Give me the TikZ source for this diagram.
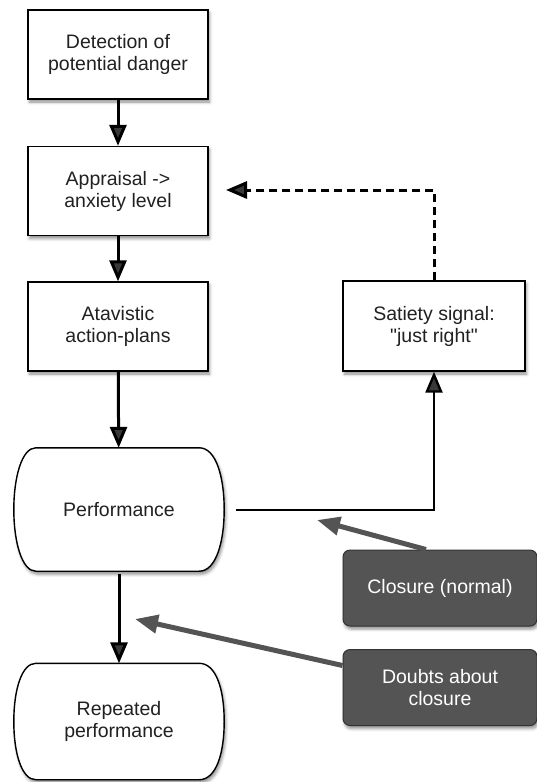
\documentclass[tikz,border=0pt]{standalone}
\usepackage{fontspec}
\setmainfont{Liberation Sans}
\newfontfamily\rawfont{Liberation Sans}
\usetikzlibrary{arrows.meta,shadows.blur}
\definecolor{txt}{gray}{0.13}
\definecolor{dark}{gray}{0.33}
\begin{document}
\begin{tikzpicture}[x=1pt,y=-1pt,
  font=\fontsize{19.5}{22}\selectfont,
  shade/.style={blur shadow={shadow xshift=1.5pt,shadow yshift=-3pt,shadow blur radius=3pt,shadow opacity=45}},
  box/.style={draw=black,line width=1.4pt,fill=white,minimum width=180pt,minimum height=89pt,align=center,text=txt,inner sep=0pt,shade},
  dbox/.style={draw=black!80,line width=1pt,fill=dark,rounded corners=7pt,minimum width=194pt,minimum height=76pt,align=center,text=white,inner sep=0pt,shade},
  blob/.style={minimum width=210pt,minimum height=123pt,align=center,text=txt,inner sep=0pt},
  arr/.style={line width=3pt,-{Triangle[length=21pt,width=17pt]}},
  garr/.style={line width=5pt,draw=dark,-{Triangle[length=23pt,width=18pt]},color=dark}
]
\useasboundingbox (0,0) rectangle (537,782);

\node[box] (det) at (118,54.5) {Detection of\\potential danger};
\node[box] (app) at (118,191) {Appraisal ->\\anxiety level};
\node[box] (ata) at (118,326.5) {Atavistic\\action-plans};
\node[box,minimum width=182pt,minimum height=90pt] (sat) at (434,326) {Satiety signal:\\{\rawfont"}just right{\rawfont"}};

\node[blob] (perf) at (119,509.5) {};
\node[blob,minimum height=116pt] (rep) at (119,721.5) {};

\foreach \n in {perf,rep}{
  \draw[line width=1.4pt,fill=white,shade]
    ([xshift=22pt]\n.north west) -- ([xshift=-25pt]\n.north east)
    .. controls ([xshift=-8pt]\n.north east) and ([yshift=32pt]\n.east) .. (\n.east)
    .. controls ([yshift=-32pt]\n.east) and ([xshift=-8pt]\n.south east) .. ([xshift=-25pt]\n.south east)
    -- ([xshift=22pt]\n.south west)
    .. controls ([xshift=8pt]\n.south west) and ([yshift=-32pt]\n.west) .. (\n.west)
    .. controls ([yshift=32pt]\n.west) and ([xshift=8pt]\n.north west) .. ([xshift=22pt]\n.north west) -- cycle;
}
\node[text=txt] at (perf.center) {Performance};
\node[text=txt,align=center] at (rep.center) {Repeated\\performance};

\node[dbox] (clo) at (440,588) {Closure (normal)};
\node[dbox] (dou) at (440,687.5) {Doubts about\\closure};

\draw[arr] (det) -- (app);
\draw[arr] (app) -- (ata);
\draw[arr] (ata) -- (perf);
\draw[arr] ([yshift=-3pt]perf.south) -- (rep);

\coordinate (dtip) at (226,190);
\draw[arr,dash pattern=on 8pt off 5pt] (sat.north) |- (dtip);

\coordinate (pstart) at (236,510);
\draw[line width=2.4pt,-{Triangle[length=21pt,width=17pt]}] (pstart) -| (sat.south);

\coordinate (ctip) at (317,520);
\coordinate (qtip) at (135,619);
\draw[garr] ([xshift=-14pt]clo.north) -- (ctip);
\draw[garr] ([yshift=22pt]dou.west) -- (qtip);
\end{tikzpicture}
\end{document}
